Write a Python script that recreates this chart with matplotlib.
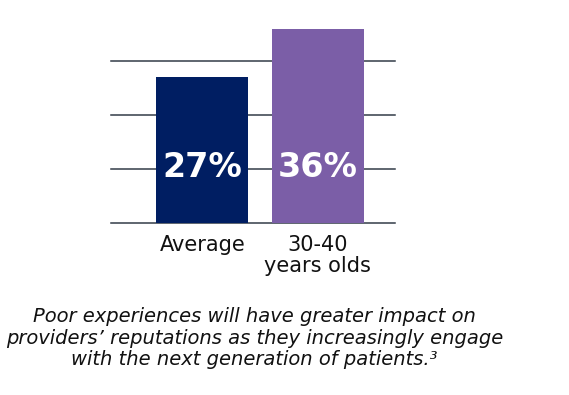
import matplotlib
matplotlib.use('Agg')
import matplotlib.pyplot as plt

# data
categories = ['Average', '30-40\nyears olds']
values = [27, 36]
value_labels = ['27%', '36%']
bar_colors = ['#001e62', '#7b5ea7']
grid_ticks = [0, 10, 20, 30]
caption = ("Poor experiences will have greater impact on\n"
           "providers\u2019 reputations as they increasingly engage\n"
           "with the next generation of patients.\u00b3")

plt.rcParams['font.family'] = ['DejaVu Sans']

fig = plt.figure(figsize=(5.69, 3.95), dpi=100)
ax = fig.add_axes([0.195, 0.4354, 0.499, 0.5468])

xs = range(len(values))
ax.bar(xs, values, width=0.80, color=bar_colors, zorder=3)
for x, v, lab in zip(xs, values, value_labels):
    ax.text(x, 10.3, lab, ha='center', va='center', color='white',
            fontsize=24, fontweight='bold', zorder=4)

# grid lines
for g in grid_ticks:
    ax.axhline(g, color='#333c48', linewidth=1.1, zorder=1, clip_on=False)

ax.set_xlim(-0.789, 1.666)
ax.set_ylim(0, 40)
ax.set_yticks([])
ax.set_xticks(list(xs))
ax.set_xticklabels(categories, fontsize=15, linespacing=1.1, color='#111111')
ax.tick_params(axis='x', length=0, pad=8.5)
for s in ax.spines.values():
    s.set_visible(False)

fig.text(0.447, 0.144, caption, ha='center', va='center', fontsize=14,
         style='italic', linespacing=1.16, color='#111111')

fig.savefig('out.png', dpi=100)
